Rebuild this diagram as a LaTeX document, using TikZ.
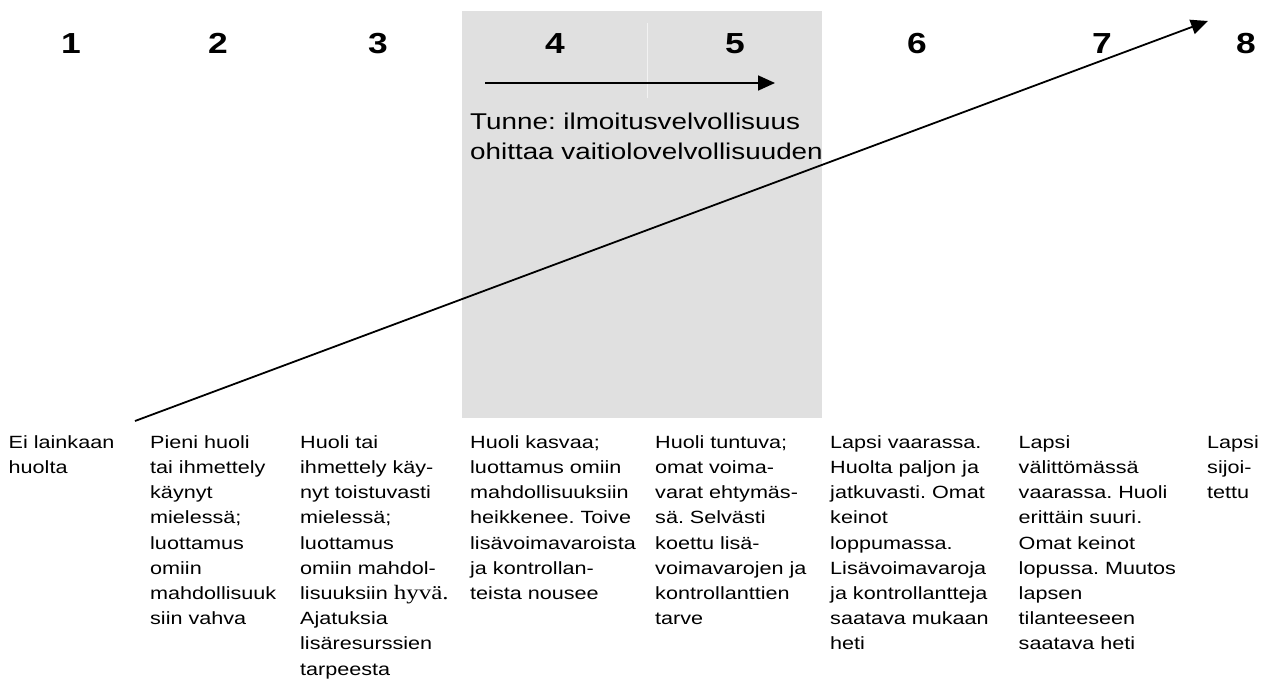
\documentclass[tikz,border=0pt]{standalone}
\usepackage{fontspec}
\setmainfont{Liberation Sans}[FakeStretch=1.22]
\newfontfamily\hyserif{Liberation Serif}[FakeStretch=1.22]
\usetikzlibrary{arrows.meta}
\definecolor{panelgrey}{RGB}{224,224,224}
\definecolor{divgrey}{RGB}{242,242,242}
\tikzset{
  num/.style={anchor=base, inner sep=0pt, font=\fontsize{29pt}{34pt}\selectfont\bfseries},
  desc/.style={anchor=north west, inner sep=0pt, align=left, font=\fontsize{17.7pt}{25.2pt}\selectfont\frenchspacing},
  feel/.style={anchor=north west, inner sep=0pt, align=left, font=\fontsize{22.8pt}{30pt}\selectfont\frenchspacing},
  arr/.style={line width=1.8pt, -{Triangle[length=17pt,width=15pt]}},
}
\newcommand{\fs}{\rule{0pt}{14pt}}
\begin{document}
\begin{tikzpicture}[x=1pt,y=-1pt]
\useasboundingbox (0,0) rectangle (1270,680);
\fill[panelgrey] (462,11) rectangle (822,418);
\draw[divgrey, line width=1pt] (647,23) -- (647,98);
% numbers
\node[num] (n1) at (71,53.5) {1};
\node[num] (n2) at (218,53.5) {2};
\node[num] (n3) at (378,53.5) {3};
\node[num] (n4) at (555,53.5) {4};
\node[num] (n5) at (735,53.5) {5};
\node[num] (n6) at (917,53.5) {6};
\node[num] (n7) at (1102,53.5) {7};
\node[num] (n8) at (1246,53.5) {8};
% small arrow
\coordinate (sa) at (485,83);
\coordinate (sb) at (775,83);
\draw[arr] (sa) -- (sb);
\node[feel] (tunne) at (470,111.5) {\rule{0pt}{18pt}Tunne: ilmoitusvelvollisuus\\ohittaa vaitiolovelvollisuuden};
% big arrow
\coordinate (ba) at (135,421);
\coordinate (bb) at (1208,21);
\draw[arr] (ba) -- (bb);
% descriptions
\node[desc] (c1) at (8.5,434) {\fs Ei lainkaan\\huolta};
\node[desc] (c2) at (150,434) {\fs Pieni huoli\\tai ihmettely\\käynyt\\mielessä;\\luottamus\\omiin\\mahdollisuuk\\siin vahva};
\node[desc] (c3) at (300,434) {\fs Huoli tai\\ihmettely käy-\\nyt toistuvasti\\mielessä;\\luottamus\\omiin mahdol-\\lisuuksiin {\hyserif\fontsize{20.5pt}{25.2pt}\selectfont hyvä.}\\Ajatuksia\\lisäresurssien\\tarpeesta};
\node[desc] (c4) at (470,434) {\fs Huoli kasvaa;\\luottamus omiin\\mahdollisuuksiin\\heikkenee. Toive\\lisävoimavaroista\\ja kontrollan-\\teista nousee};
\node[desc] (c5) at (655,434) {\fs Huoli tuntuva;\\omat voima-\\varat ehtymäs-\\sä. Selvästi\\koettu lisä-\\voimavarojen ja\\kontrollanttien\\tarve};
\node[desc] (c6) at (830,434) {\fs Lapsi vaarassa.\\Huolta paljon ja\\jatkuvasti. Omat\\keinot\\loppumassa.\\Lisävoimavaroja\\ja kontrollantteja\\saatava mukaan\\heti};
\node[desc] (c7) at (1018.5,434) {\fs Lapsi\\välittömässä\\vaarassa. Huoli\\erittäin suuri.\\Omat keinot\\lopussa. Muutos\\lapsen\\tilanteeseen\\saatava heti};
\node[desc] (c8) at (1207,434) {\fs Lapsi\\sijoi-\\tettu};
\end{tikzpicture}
\end{document}
